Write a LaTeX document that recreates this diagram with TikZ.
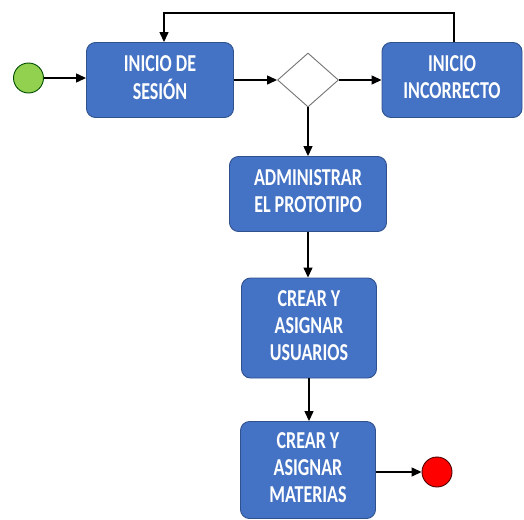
\documentclass[tikz,border=0pt]{standalone}
\usepackage{fontspec}
\setmainfont{Carlito}
\usetikzlibrary{shapes.geometric,arrows.meta}
\definecolor{boxblue}{HTML}{4472C4}
\definecolor{boxedge}{HTML}{2F528F}
\definecolor{startgreen}{HTML}{92D050}
\newcommand{\stxt}[1]{\scalebox{1}[1.35]{\begin{tabular}{@{}c@{}}#1\end{tabular}}}
\tikzset{
  actbox/.style={draw=boxedge, line width=0.9pt, fill=boxblue, rounded corners=9pt,
    text=white, font=\fontsize{18}{20}\selectfont\bfseries, inner sep=0pt, align=center},
  arr/.style={draw=black, line width=1.3pt, -{Triangle[length=10pt,width=9pt]}},
  ln/.style={draw=black, line width=1.3pt},
}
\begin{document}
\begin{tikzpicture}[x=1pt,y=-1pt]
\useasboundingbox (0,0) rectangle (524,519);
\node[circle, draw=black!70!green, line width=0.9pt, fill=startgreen, minimum size=30pt, inner sep=0pt] (start) at (28.5,78) {};
\node[actbox, minimum width=147pt, minimum height=75pt] (login) at (160,80) {\stxt{INICIO DE\\SESIÓN}};
\node[diamond, draw=black!55, line width=0.9pt, fill=white, minimum width=61pt, minimum height=54pt, inner sep=0pt] (dec) at (308,80) {};
\node[actbox, minimum width=140pt, minimum height=75pt] (bad) at (452,80) {\stxt{INICIO\\INCORRECTO}};
\node[actbox, minimum width=157pt, minimum height=75pt] (admin) at (308,194) {\stxt{ADMINISTRAR\\EL PROTOTIPO}};
\node[actbox, minimum width=135pt, minimum height=100pt] (users) at (309,328) {\stxt{CREAR Y\\ASIGNAR\\USUARIOS}};
\node[actbox, minimum width=135pt, minimum height=97pt] (mat) at (308,470) {\stxt{CREAR Y\\ASIGNAR\\MATERIAS}};
\node[circle, draw=black!70!red, line width=0.9pt, fill=red, minimum size=30pt, inner sep=0pt] (end) at (437,472) {};
\coordinate (top) at (300,13);

\draw[arr] (start.east) -- (login.west |- start.east);
\draw[arr] (login.east) -- (dec.west);
\draw[arr] (dec.east) -- (bad.west);
\draw[arr] ([xshift=2pt]bad.north) |- (top) -| ([xshift=4pt]login.north);
\draw[arr] (dec.south) -- (admin.north -| dec.south);
\draw[arr] (admin.south) -- (users.north -| admin.south);
\draw[arr] (users.south) -- (mat.north -| users.south);
\draw[arr] (mat.east |- end.west) -- (end.west);
\end{tikzpicture}
\end{document}
